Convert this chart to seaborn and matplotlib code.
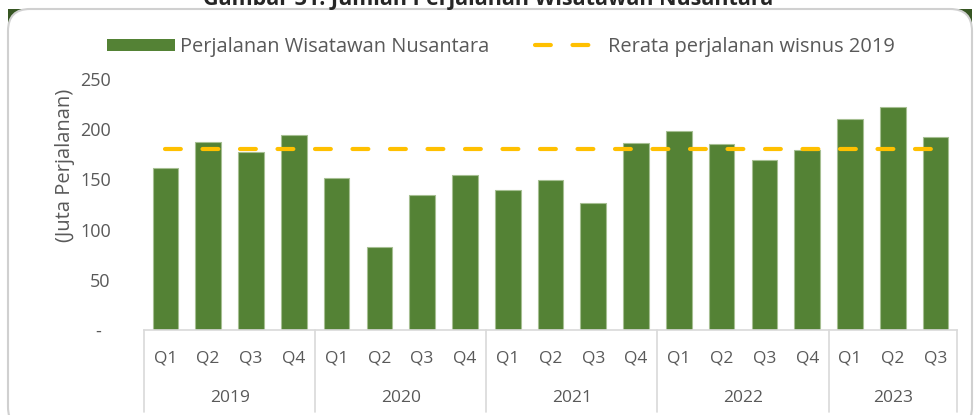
import matplotlib
matplotlib.use("Agg")
import matplotlib.pyplot as plt
import matplotlib.transforms as mtransforms
from matplotlib.patches import FancyBboxPatch, Rectangle, Patch
from matplotlib.lines import Line2D
import seaborn as sns
import pandas as pd

# ----- Data -----
tahun = ["2019", "2020", "2021", "2022", "2023"]
kuartal = ["Q1", "Q2", "Q3", "Q4",
           "Q1", "Q2", "Q3", "Q4",
           "Q1", "Q2", "Q3", "Q4",
           "Q1", "Q2", "Q3", "Q4",
           "Q1", "Q2", "Q3"]
tahun_per_bar = ["2019"] * 4 + ["2020"] * 4 + ["2021"] * 4 + ["2022"] * 4 + ["2023"] * 3
perjalanan = [161, 187, 177, 194,
              151, 83, 134.5, 154,
              139, 149.5, 126, 186,
              198.5, 185, 169, 179.5,
              210, 222, 192]
rerata_2019 = 180
y_ticks = [0, 50, 100, 150, 200, 250]
y_ticklabels = ["-  ", "50", "100", "150", "200", "250"]

# ----- Style -----
sns.set_style("white")
plt.rcParams["font.family"] = ["Open Sans", "DejaVu Sans"]
text_color = "#595959"
bar_color = "#548235"
line_color = "#FFC000"
grid_color = "#d9d9d9"

W, H = 976, 415
fig = plt.figure(figsize=(W / 100, H / 100), dpi=100)
fig.patch.set_facecolor("white")

# background layer in pixel units
bg = fig.add_axes([0, 0, 1, 1], zorder=0)
bg.set_xlim(0, W)
bg.set_ylim(H, 0)
bg.axis("off")
bg.add_patch(Rectangle((8, 9), 964, 420, facecolor="#375623", edgecolor="none"))
bg.add_patch(FancyBboxPatch((8, 9), 964, 420,
                            boxstyle="round,pad=0,rounding_size=22",
                            facecolor="white", edgecolor="#d0d0d0", linewidth=1.5))
bg.text(488, 5, "Gambar 31. Jumlah Perjalanan Wisatawan Nusantara",
        ha="center", va="baseline", fontsize=15.5, fontweight="bold", color="#262626")
bg.text(65, 165, "(Juta Perjalanan)", rotation=90, ha="center", va="center",
        fontsize=14.5, color=text_color)

# ----- Main plot -----
x0, x1, ytop, ybot = 144, 957, 79, 330
ax = fig.add_axes([x0 / W, 1 - ybot / H, (x1 - x0) / W, (ybot - ytop) / H], zorder=1)
ax.set_facecolor("none")

df = pd.DataFrame({
    "periode": [f"{t} {q}" for t, q in zip(tahun_per_bar, kuartal)],
    "perjalanan": perjalanan,
})
sns.barplot(data=df, x="periode", y="perjalanan", color=bar_color, saturation=1,
            width=0.6, edgecolor="#a6bf92", linewidth=0.8, ax=ax)

n = len(perjalanan)
ax.hlines(rerata_2019, 0, n - 1, colors=line_color, linewidth=3,
          linestyles=(0, (3.8, 5.2)), capstyle="round", zorder=3)

ax.set_xlim(-0.5, n - 0.5)
ax.set_ylim(0, 250)
ax.set_yticks(y_ticks)
ax.set_yticklabels(y_ticklabels)
ax.tick_params(axis="y", length=0, pad=24, labelsize=13, labelcolor=text_color)
ax.set_xticks([])
ax.set_xlabel("")
ax.set_ylabel("")
for s in ["top", "right", "left"]:
    ax.spines[s].set_visible(False)
ax.spines["bottom"].set_color(grid_color)
ax.spines["bottom"].set_linewidth(1.2)

# category axis: quarters, years and separators
trans = mtransforms.blended_transform_factory(ax.transData, bg.transData)
for i, q in enumerate(kuartal):
    ax.text(i, 358, q, transform=trans, ha="center", va="center",
            fontsize=12.5, color=text_color, clip_on=False)
start = 0
for t in tahun:
    cnt = tahun_per_bar.count(t)
    ax.text(start + (cnt - 1) / 2, 398, t, transform=trans, ha="center", va="center",
            fontsize=12.5, color=text_color, clip_on=False)
    ax.plot([start - 0.5, start - 0.5], [330, 412], transform=trans,
            color=grid_color, linewidth=1.2, clip_on=False)
    start += cnt
ax.plot([start - 0.5, start - 0.5], [330, 412], transform=trans,
        color=grid_color, linewidth=1.2, clip_on=False)

# ----- Legend -----
handles = [
    Patch(facecolor=bar_color, edgecolor="none", label="Perjalanan Wisatawan Nusantara"),
    Line2D([0], [0], color=line_color, linewidth=3, linestyle=(0, (3.8, 5.2)),
           dash_capstyle="round", label="Rerata perjalanan wisnus 2019"),
]
fig.legend(handles=handles, loc="center", bbox_to_anchor=(501 / W, 1 - 47 / H),
           ncol=2, frameon=False, fontsize=14.4, labelcolor=text_color,
           handlelength=3.4, handleheight=0.6, handletextpad=0.25, columnspacing=2.3)

fig.savefig("out.png", dpi=100, facecolor="white")
